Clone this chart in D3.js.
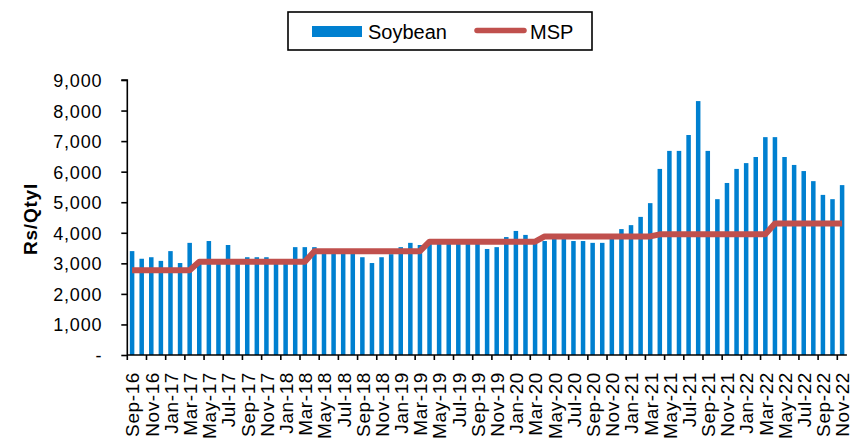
<!DOCTYPE html>
<html>
<head>
<meta charset="utf-8">
<script src="https://cdn.jsdelivr.net/npm/d3@7/dist/d3.min.js"></script>
<style>
  html, body { margin: 0; padding: 0; background: #fff; }
  svg { display: block; font-family: "Liberation Sans", Arial, sans-serif; }
</style>
</head>
<body>
<svg id="chart" width="862" height="442"></svg>
<script>
// Monthly categories, Sep-16 .. Nov-22
const months = [
  "Sep-16","Oct-16","Nov-16","Dec-16",
  "Jan-17","Feb-17","Mar-17","Apr-17","May-17","Jun-17","Jul-17","Aug-17","Sep-17","Oct-17","Nov-17","Dec-17",
  "Jan-18","Feb-18","Mar-18","Apr-18","May-18","Jun-18","Jul-18","Aug-18","Sep-18","Oct-18","Nov-18","Dec-18",
  "Jan-19","Feb-19","Mar-19","Apr-19","May-19","Jun-19","Jul-19","Aug-19","Sep-19","Oct-19","Nov-19","Dec-19",
  "Jan-20","Feb-20","Mar-20","Apr-20","May-20","Jun-20","Jul-20","Aug-20","Sep-20","Oct-20","Nov-20","Dec-20",
  "Jan-21","Feb-21","Mar-21","Apr-21","May-21","Jun-21","Jul-21","Aug-21","Sep-21","Oct-21","Nov-21","Dec-21",
  "Jan-22","Feb-22","Mar-22","Apr-22","May-22","Jun-22","Jul-22","Aug-22","Sep-22","Oct-22","Nov-22"
];

// Soybean modal price, Rs/Qtl
const soybean = [
  3400, 3150, 3200, 3080,
  3400, 3010, 3670, 3050, 3730, 3050, 3600, 3000, 3200, 3200, 3200, 3050,
  3050, 3530, 3530, 3530, 3400, 3400, 3400, 3380, 3200, 3010, 3200, 3300,
  3530, 3670, 3600, 3700, 3700, 3700, 3700, 3700, 3700, 3470, 3530, 3860,
  4060, 3930, 3650, 3730, 3800, 3800, 3730, 3730, 3670, 3670, 3850, 4120,
  4250, 4520, 4970, 6090, 6680, 6680, 7200, 8310, 6680, 5100, 5630, 6090,
  6280, 6480, 7130, 7130, 6480, 6220, 6020, 5690, 5240, 5100, 5560
];

// Minimum support price, Rs/Qtl
const msp = [
  2775, 2775, 2775, 2775,
  2775, 2775, 2775, 3050, 3050, 3050, 3050, 3050, 3050, 3050, 3050, 3050,
  3050, 3050, 3050, 3399, 3399, 3399, 3399, 3399, 3399, 3399, 3399, 3399,
  3399, 3399, 3399, 3710, 3710, 3710, 3710, 3710, 3710, 3710, 3710, 3710,
  3710, 3710, 3710, 3880, 3880, 3880, 3880, 3880, 3880, 3880, 3880, 3880,
  3880, 3880, 3880, 3950, 3950, 3950, 3950, 3950, 3950, 3950, 3950, 3950,
  3950, 3950, 3950, 4300, 4300, 4300, 4300, 4300, 4300, 4300, 4300
];

const yTicks = [0, 1000, 2000, 3000, 4000, 5000, 6000, 7000, 8000, 9000];
const seriesNames = ["Soybean", "MSP"];

const barColor = "#0080D0";
const lineColor = "#C0504D";

const svg = d3.select("#chart");

const plotLeft = 127.3, plotRight = 846.9, plotTop = 80, plotBottom = 355;

const x = d3.scaleBand().domain(months).range([plotLeft, plotRight]).paddingInner(0).paddingOuter(0);
const y = d3.scaleLinear().domain([0, 9000]).range([plotBottom, plotTop]);

// Bars
const barW = x.bandwidth() * 0.47;
svg.append("g")
  .selectAll("rect")
  .data(months.map((m, i) => ({ m, v: soybean[i] })))
  .join("rect")
  .attr("x", d => x(d.m) + x.bandwidth() / 2 - barW / 2)
  .attr("y", d => y(d.v))
  .attr("width", barW)
  .attr("height", d => y(0) - y(d.v))
  .attr("fill", barColor);

// MSP line
const line = d3.line()
  .x((d, i) => x(months[i]) + x.bandwidth() / 2)
  .y(d => y(d));
svg.append("path")
  .datum(msp)
  .attr("d", line)
  .attr("fill", "none")
  .attr("stroke", lineColor)
  .attr("stroke-width", 6)
  .attr("stroke-linejoin", "round");

// Y axis
const yAxis = d3.axisLeft(y)
  .tickValues(yTicks)
  .tickSize(6)
  .tickPadding(19)
  .tickFormat(d => d === 0 ? "-" : d3.format(",")(d));
const gy = svg.append("g").attr("transform", `translate(${plotLeft},0)`).call(yAxis);
gy.select(".domain").attr("stroke", "#000").attr("stroke-width", 1.6)
  .attr("d", `M-6,${plotTop}H0V${plotBottom}`);
gy.selectAll(".tick line").attr("stroke", "#000").attr("stroke-width", 1.6);
gy.selectAll(".tick text")
  .attr("fill", "#000")
  .style("font-size", "18px")
  .style("letter-spacing", "0.8px")
  .attr("dy", "0.36em");

// X axis: tick marks and labels every second month
const labelled = months.filter((m, i) => i % 2 === 0);
const gx = svg.append("g").attr("transform", `translate(0,${plotBottom})`);
gx.append("line")
  .attr("x1", plotLeft).attr("x2", plotRight)
  .attr("y1", 0).attr("y2", 0)
  .attr("stroke", "#000").attr("stroke-width", 1.6);
gx.selectAll("line.tick")
  .data(labelled)
  .join("line")
  .attr("class", "tick")
  .attr("x1", d => x(d)).attr("x2", d => x(d))
  .attr("y1", 0).attr("y2", 5)
  .attr("stroke", "#000").attr("stroke-width", 1.6);
gx.selectAll("text")
  .data(labelled)
  .join("text")
  .attr("transform", d => `translate(${x(d) + x.bandwidth() / 2 + 0.5},17) rotate(-90)`)
  .attr("text-anchor", "end")
  .attr("dy", "0.36em")
  .style("font-size", "19px")
  .style("letter-spacing", "0.6px")
  .attr("fill", "#000")
  .text(d => d);

// Y axis title
svg.append("text")
  .attr("transform", "translate(30,219) rotate(-90)")
  .attr("text-anchor", "middle")
  .attr("dy", "0.36em")
  .style("font-size", "19px")
  .style("font-weight", "bold")
  .style("letter-spacing", "0.8px")
  .text("Rs/Qtyl");

// Legend
const lg = svg.append("g");
lg.append("rect")
  .attr("x", 288).attr("y", 12).attr("width", 304).attr("height", 38)
  .attr("fill", "#fff").attr("stroke", "#000").attr("stroke-width", 1.6);
lg.append("rect")
  .attr("x", 312).attr("y", 26).attr("width", 50).attr("height", 11)
  .attr("fill", barColor);
lg.append("text")
  .attr("x", 368).attr("y", 31.5).attr("dy", "0.36em")
  .style("font-size", "20px")
  .text(seriesNames[0]);
lg.append("line")
  .attr("x1", 477).attr("x2", 524).attr("y1", 30.5).attr("y2", 30.5)
  .attr("stroke", lineColor).attr("stroke-width", 5.5).attr("stroke-linecap", "round");
lg.append("text")
  .attr("x", 530).attr("y", 31.5).attr("dy", "0.36em")
  .style("font-size", "20px")
  .text(seriesNames[1]);
</script>
</body>
</html>
